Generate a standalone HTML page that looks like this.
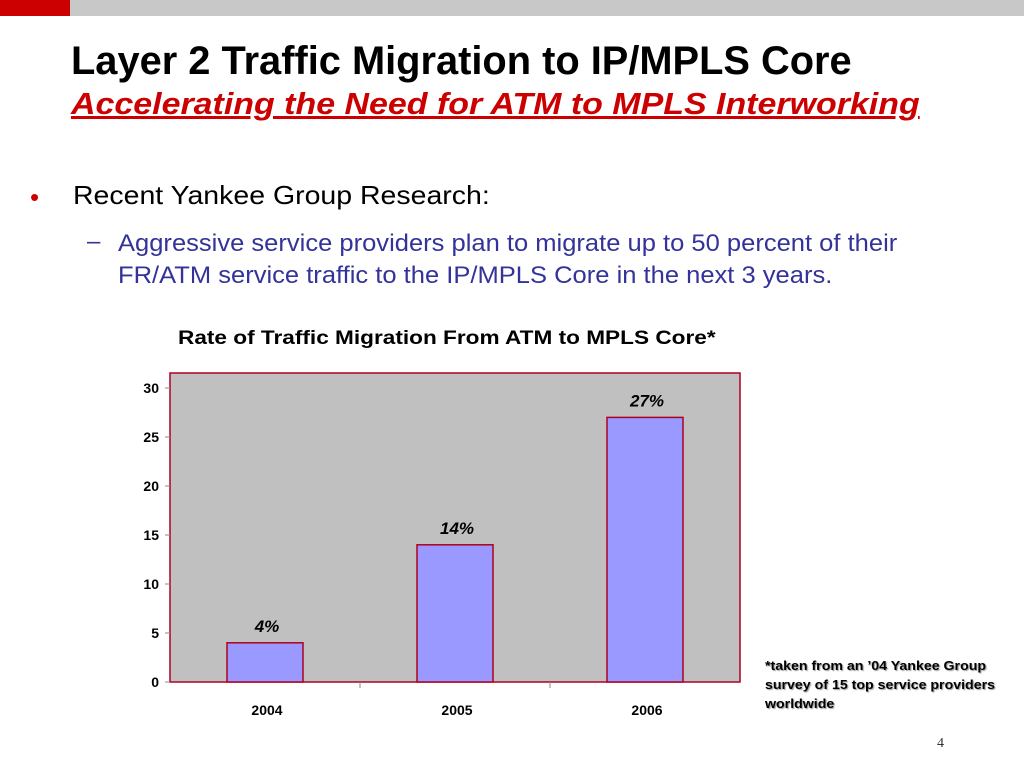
<!DOCTYPE html>
<html><head><meta charset="utf-8"><style>
body{margin:0;width:1024px;height:768px;position:relative;background:#fff;font-family:"Liberation Sans",Arial,sans-serif;overflow:hidden}
.abs{position:absolute;white-space:nowrap;transform-origin:left top}
</style></head><body>
<div class="abs" style="left:0;top:0;width:70px;height:16px;background:#cc0000"></div>
<div class="abs" style="left:70px;top:0;width:954px;height:16px;background:#c8c8c8"></div>
<div class="abs" style="left:71px;top:39px;font-size:40px;font-weight:bold;color:#000;transform:scaleX(0.995)">Layer 2 Traffic Migration to IP/MPLS Core</div>
<div class="abs" style="left:71px;top:86px;font-size:31px;font-weight:bold;font-style:italic;color:#cc0000;text-decoration:underline;transform:scaleX(1.095)">Accelerating the Need for ATM to MPLS Interworking</div>
<div class="abs" style="left:30px;top:182px;font-size:26px;color:#cc0000">•</div>
<div class="abs" style="left:73px;top:180px;font-size:26px;color:#000;transform:scaleX(1.095)">Recent Yankee Group Research:</div>
<div class="abs" style="left:87px;top:228px;font-size:24px;color:#333399">–</div>
<div class="abs" style="left:118px;top:228px;font-size:24px;line-height:32px;color:#333399;transform:scaleX(1.064)">Aggressive service providers plan to migrate up to 50 percent of their<br>FR/ATM service traffic to the IP/MPLS Core in the next 3 years.</div>
<div class="abs" style="left:178px;top:328px;font-size:19px;font-weight:bold;color:#000;transform:scaleX(1.19)">Rate of Traffic Migration From ATM to MPLS Core*</div>
<svg class="abs" style="left:0;top:0" width="1024" height="768">
<rect x="170" y="373" width="570" height="309" fill="#c0c0c0" stroke="#b00020" stroke-width="1.5"/>
<g id="g"></g>
</svg>
<div class="abs" style="left:765px;top:656px;font-size:13px;font-weight:bold;line-height:19px;color:#000;text-shadow:1px 1px 1px #999;transform:scaleX(1.09)">*taken from an ’04 Yankee Group<br>survey of 15 top service providers<br>worldwide</div>
<div class="abs" style="left:937px;top:736px;font-family:'Liberation Serif',serif;font-size:14px;color:#333">4</div>
<script>
const categories=["2004","2005","2006"];
const values=[4,14,27];
const valueLabels=["4%","14%","27%"];
const ticks=[0,5,10,15,20,25,30];
const g=document.getElementById('g');
const NS='http://www.w3.org/2000/svg';
const x0=170,x1=740,yb=682,yt=388,ymax=30;
const y=v=>yb-(v/ymax)*(yb-yt);
const bw=(x1-x0)/categories.length;
const xc=i=>x0+bw*(i+0.5);
function mk(t,a){const e=document.createElementNS(NS,t);for(const k in a)e.setAttribute(k,a[k]);g.appendChild(e);return e;}
ticks.forEach(t=>{
 const l=mk('line',{x1:x0-5,x2:x0,y1:y(t),y2:y(t),stroke:'#888'});
 
 
 const tx=mk('text',{x:x0-11,y:y(t)+5,'text-anchor':'end','font-size':14,'font-weight':'bold','font-family':'Liberation Sans, sans-serif'});
 tx.textContent=t;
 
 
});
for(let i=1;i<categories.length;i++){
 const l=mk('line',{x1:x0+bw*i,x2:x0+bw*i,y1:yb,y2:yb+6,stroke:'#888'});
 
 
}
categories.forEach((c,i)=>{
 const w=76;
 const r=mk('rect',{x:xc(i)-w/2,y:y(values[i]),width:w,height:yb-y(values[i]),fill:'#9999ff',stroke:'#b00020','stroke-width':1.5});
 
 
 const vl=mk('text',{x:xc(i)+2,y:y(values[i])-11,'text-anchor':'middle','font-size':17,'font-weight':'bold','font-style':'italic','font-family':'Liberation Sans, sans-serif'});
 vl.textContent=valueLabels[i];
 
 
 const cl=mk('text',{x:xc(i)+2,y:715,'text-anchor':'middle','font-size':14,'font-weight':'bold','font-family':'Liberation Sans, sans-serif'});
 cl.textContent=c;
 
 
});
</script>
</body></html>
